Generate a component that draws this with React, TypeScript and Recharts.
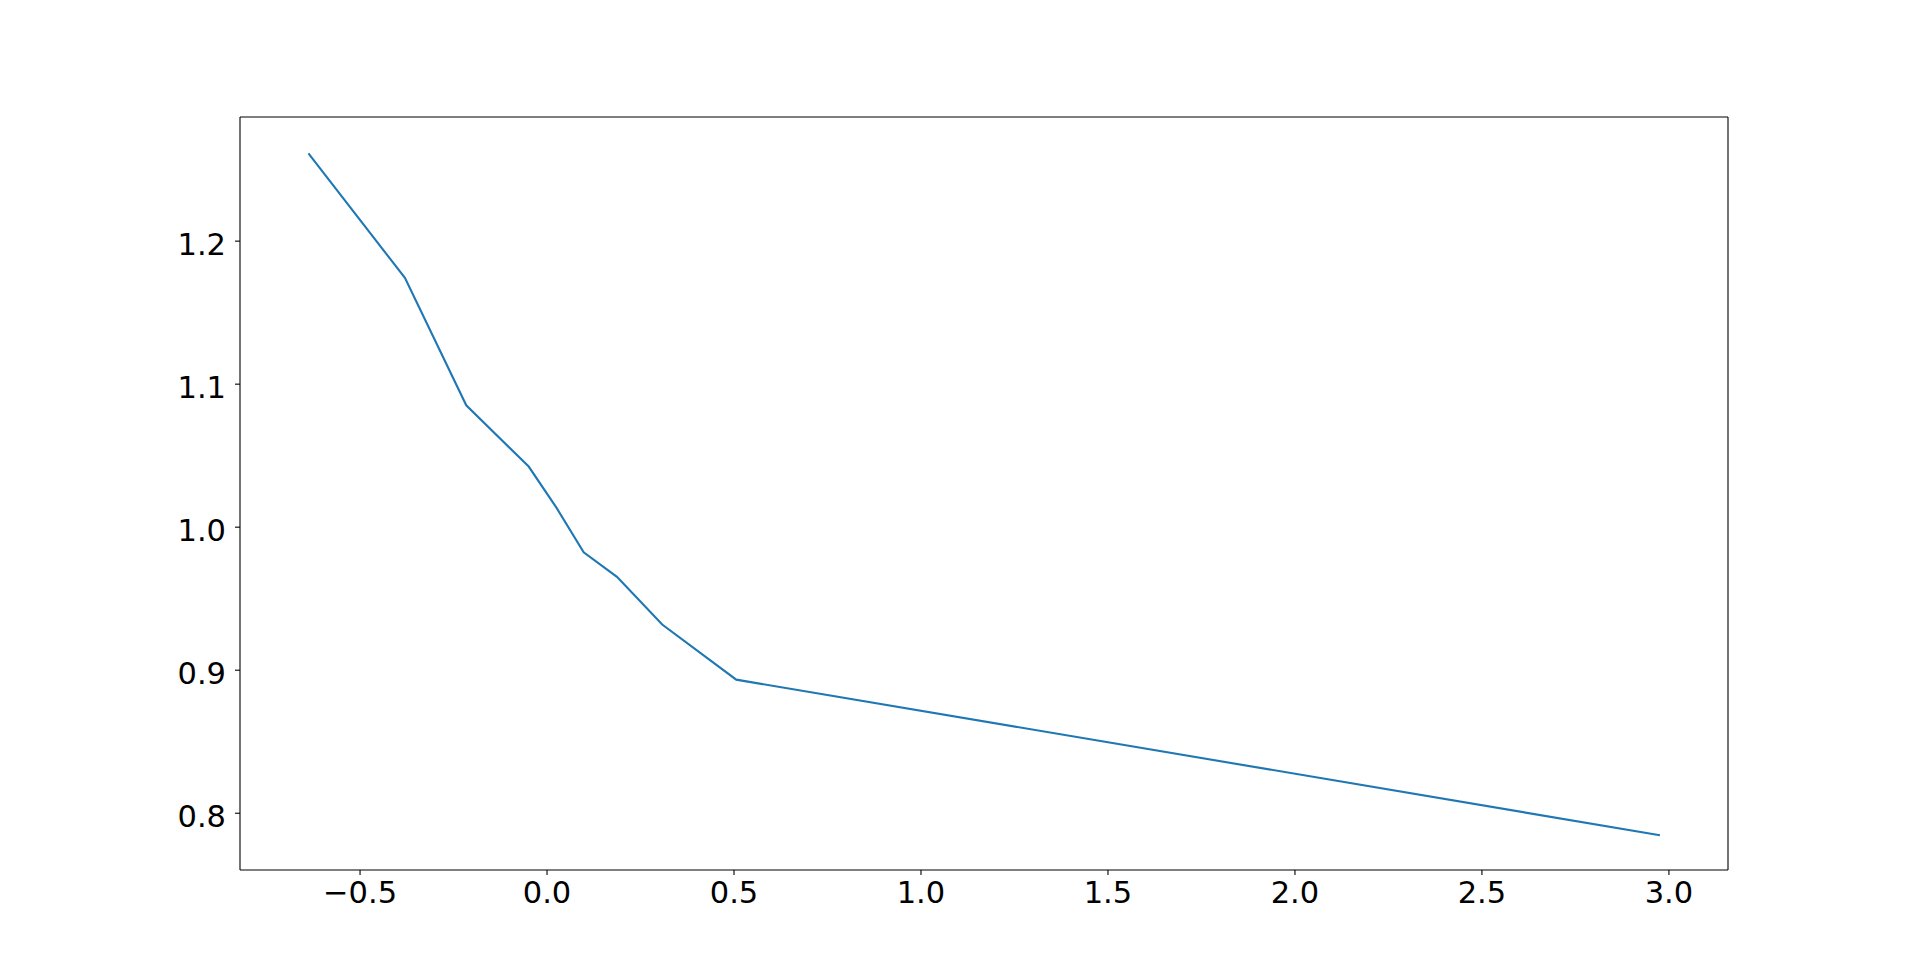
import React from 'react';
import { LineChart, Line, XAxis, YAxis } from 'recharts';

const xValues = [-0.638, -0.38, -0.216, -0.049, 0.026, 0.098, 0.187, 0.308, 0.506, 2.976];
const yValues = [1.2614, 1.1743, 1.0852, 1.0424, 1.0133, 0.9824, 0.9653, 0.9319, 0.8934, 0.7846];
const xTicks = [-0.5, 0.0, 0.5, 1.0, 1.5, 2.0, 2.5, 3.0];
const yTicks = [0.8, 0.9, 1.0, 1.1, 1.2];
const xDomain: [number, number] = [-0.821, 3.158];
const yDomain: [number, number] = [0.7603, 1.2868];

const data = xValues.map((x, i) => ({ x, y: yValues[i] }));

const fmt = (v: number) => v.toFixed(1).replace('-', '\u2212');

const xTickStyle = { fill: '#000', fontSize: 30.5, fontFamily: 'DejaVu Sans' };
const yTickStyle = { fill: '#000', fontSize: 30.5, fontFamily: 'DejaVu Sans', dy: 3 };

export default function App() {
  return (
    <div style={{ position: 'fixed', left: 0, top: 0, width: 1920, height: 977, background: '#fff' }}>
      <LineChart
        width={1920}
        height={977}
        data={data}
        margin={{ top: 107, right: 182, bottom: 47, left: 160 }}
      >
        <XAxis
          dataKey="x"
          type="number"
          domain={xDomain}
          ticks={xTicks}
          allowDataOverflow
          height={60}
          stroke="#000"
          strokeWidth={1.1}
          tickSize={5}
          tickMargin={6}
          tickFormatter={fmt}
          tick={xTickStyle}
          interval={0}
        />
        <XAxis
          xAxisId="top"
          orientation="top"
          dataKey="x"
          type="number"
          domain={xDomain}
          allowDataOverflow
          height={10}
          stroke="#000"
          strokeWidth={1.1}
          tick={false}
          tickLine={false}
        />
        <YAxis
          type="number"
          domain={yDomain}
          ticks={yTicks}
          allowDataOverflow
          width={80}
          stroke="#000"
          strokeWidth={1.1}
          tickSize={5}
          tickMargin={9}
          tickFormatter={fmt}
          tick={yTickStyle}
          interval={0}
        />
        <YAxis
          yAxisId="right"
          orientation="right"
          type="number"
          domain={yDomain}
          allowDataOverflow
          width={10}
          stroke="#000"
          strokeWidth={1.1}
          tick={false}
          tickLine={false}
        />
        <Line
          dataKey="y"
          type="linear"
          stroke="#1f77b4"
          strokeWidth={2.1}
          dot={false}
          isAnimationActive={false}
        />
      </LineChart>
    </div>
  );
}
